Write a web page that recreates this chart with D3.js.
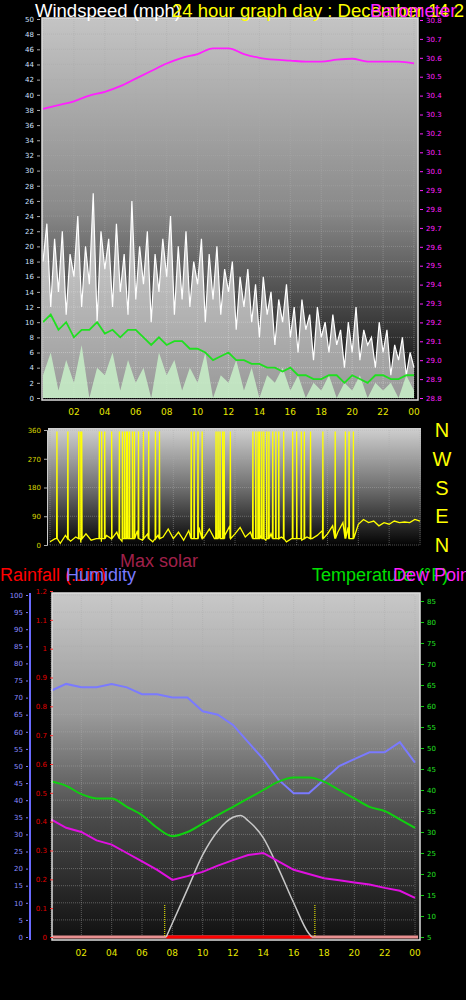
<!DOCTYPE html><html><head><meta charset="utf-8">
<script src="https://cdn.jsdelivr.net/npm/d3@7"></script>
<style>body{margin:0;background:#000}svg{display:block}</style></head><body>
<script>
// ---- data ----
const hourTicks=["02","04","06","08","10","12","14","16","18","20","22","00"];
const baroHours=[0,1,2,3,4,5,6,7,8,9,10,11,12,13,14,15,16,17,18,19,20,21,22,23,24];
const baro=[30.33,30.35,30.37,30.40,30.42,30.45,30.49,30.53,30.57,30.60,30.62,30.65,30.65,30.62,30.60,30.59,30.585,30.58,30.58,30.59,30.595,30.58,30.58,30.58,30.57];
const gust=[18,23,12,21,14,22,11,19,16,24,12,20,15,27,10,22,17,21,12,23,14,19,11,26,13,20,15,22,10,19,14,21,16,24,11,20,13,22,12,18,15,21,10,19,13,20,11,17,14,18,9,16,12,17,10,15,8,16,11,14,7,13,10,15,8,12,6,13,9,11,5,12,8,10,6,11,7,9,4,10,6,12,5,9,7,8,4,10,6,9,3,7,5,8,3,6,4];
const speed=[3,6,1,5,2,7,0,4,3,6,1,5,2,4,0,6,3,5,1,4,2,6,0,3,2,5,1,4,0,3,2,4,1,3,0,2,1,3,0,2,1,3,0,2,1,2,0,3,1];
const avgWind=[10,11,9,10,8,9,9,10,8.5,9,8,9,9,8,7,8,7,7.5,7.5,6.5,6.5,6,5,5.5,6,5,5,4.5,4.5,4,4,3.5,4,3,3,2.5,2.5,3,3,2,3,2.5,2,3,3,2.5,2.5,3,3];
const dirBase=[10,20,5,30,12,25,8,35,15,20,10,30,18,40,12,25,20,45,15,35,10,30,25,50,20,40,15,45,30,55,25,50,20,45,30,60,35,55,25,40,20,30,15,35,20,25,10,20,30,15,25,20,30,45,35,60,40,70,55,75,65,80,70,75,60,70,65,75,70,72,70,80,75];
const dirSpikes=[0.45,1.16,1.87,2.0,2.06,3.2,3.35,3.55,4.0,4.5,4.7,4.84,4.97,5.03,5.16,5.35,5.48,5.74,6.06,6.4,6.84,7.1,9.16,9.35,9.6,9.87,10.77,10.9,11.03,11.2,11.3,11.7,13.16,13.35,13.5,13.6,13.74,13.87,14.06,14.2,14.45,14.65,14.84,15.16,15.74,16.0,16.3,16.5,16.9,17.7,18.5,19.16,19.4,19.68];
const hum=[72,74,73,73,74,73,71,71,70,70,66,65,62,57,52,46,42,42,46,50,52,54,54,57,51];
const temp=[42,41,39,38,38,36,34,31,29,30,32,34,36,38,40,42,43,43,42,40,38,36,35,33,31];
const dew=[33,31,30,28,27,25,23,21,18.6,19.5,20.5,22,23.3,24.5,25,23,21,20,19,18.5,18,17.5,16.7,16,14.3];
const solarHours=[7.6,8,9,10,11,12,12.5,13,14,15,16,17,17.2];
const solar=[0,4,14,24,31,35,35.5,34,29,20,10,1,0];
const sunMarks=[7.5,17.4];

const W=466,H=1000;
const svg=d3.select("body").append("svg").attr("width",W).attr("height",H);
const defs=svg.append("defs");
function grad(id,stops){const g=defs.append("linearGradient").attr("id",id).attr("x1",0).attr("y1",0).attr("x2",0).attr("y2",1);stops.forEach(s=>g.append("stop").attr("offset",s[0]).attr("stop-color",s[1]));}
grad("g1",[[0,"#c4c4c4"],[0.5,"#8a8a8a"],[0.8,"#3a3a3a"],[1,"#000"]]);
grad("g2",[[0,"#d0d0d0"],[0.5,"#707070"],[1,"#000"]]);
grad("g3",[[0,"#c8c8c8"],[0.35,"#9a9a9a"],[0.65,"#4a4a4a"],[1,"#101010"]]);
const F="DejaVu Sans, sans-serif";
function panel(x0,x1,y0,y1,g){
  svg.append("rect").attr("x",x0).attr("y",y0).attr("width",x1-x0).attr("height",y1-y0).attr("fill",`url(#${g})`);
}
function grid(x,y,yt){
  const gg=svg.append("g").attr("stroke","#aaa").attr("stroke-opacity",0.45).attr("stroke-dasharray","1,1");
  d3.range(0,25,2).forEach(h=>gg.append("line").attr("x1",x(h)).attr("x2",x(h)).attr("y1",y.range()[0]).attr("y2",y.range()[1]));
  yt.forEach(v=>gg.append("line").attr("x1",x.range()[0]).attr("x2",x.range()[1]).attr("y1",y(v)).attr("y2",y(v)));
}
function frame(x0,x1,y0,y1){svg.append("rect").attr("x",x0).attr("y",y0).attr("width",x1-x0).attr("height",y1-y0).attr("fill","none").attr("stroke","#ddd").attr("stroke-width",1.5);}
function xlabels(x,y){hourTicks.forEach((t,i)=>svg.append("text").attr("x",x((i+1)*2)).attr("y",y).attr("fill","#e6e600").attr("font-size",9).attr("font-family",F).attr("text-anchor","middle").text(t));}
const idx=(arr)=>arr.map((v,i)=>[i*24/(arr.length-1),v]);

// ---- top panel ----
const x1=d3.scaleLinear([0,24],[43,414]);
const yW=d3.scaleLinear([0,50],[398,19]);
const yB=d3.scaleLinear([28.8,30.8],[398,20]);
panel(42,418,18,400,"g1");
grid(x1,yW,d3.range(0,51,2));
const ln=(x,y)=>d3.line().x(d=>x(d[0])).y(d=>y(d[1]));
svg.append("path").datum(idx(gust)).attr("d",d3.area().x(d=>x1(d[0])).y0(yW(0)).y1(d=>yW(d[1]))).attr("fill","#fff").attr("fill-opacity",0.6);
svg.append("path").datum(idx(gust)).attr("d",ln(x1,yW)).attr("fill","none").attr("stroke","#fff").attr("stroke-width",1.2);
svg.append("path").datum(idx(speed)).attr("d",d3.area().x(d=>x1(d[0])).y0(yW(0)).y1(d=>yW(d[1]))).attr("fill","#c8f0c8").attr("fill-opacity",0.85);
svg.append("path").datum(idx(avgWind)).attr("d",ln(x1,yW)).attr("fill","none").attr("stroke","#20e020").attr("stroke-width",1.8);
svg.append("path").datum(baroHours.map((h,i)=>[h,baro[i]])).attr("d",ln(x1,yB).curve(d3.curveMonotoneX)).attr("fill","none").attr("stroke","#ff20ff").attr("stroke-width",1.8);
frame(42,418,18,400);
svg.append("g").attr("transform","translate(40,0)").call(d3.axisLeft(yW).tickValues(d3.range(0,51,2)).tickSize(3)).call(g=>{g.select(".domain").remove();g.selectAll("line").attr("stroke","#aaa");g.selectAll("text").attr("fill","#cfe0ff").attr("font-size",7).attr("font-family",F);});
svg.append("g").attr("transform","translate(420,0)").call(d3.axisRight(yB).tickValues(d3.range(0,21).map(i=>+(28.8+i*0.1).toFixed(1))).tickSize(3).tickFormat(d3.format(".1f"))).call(g=>{g.select(".domain").remove();g.selectAll("line").attr("stroke","#ff20ff");g.selectAll("text").attr("fill","#ff20ff").attr("font-size",7).attr("font-family",F);});
xlabels(x1,415);
const T="Liberation Sans, Arial, sans-serif";
svg.append("text").attr("x",35).attr("y",17).attr("fill","#fff").attr("font-size",18.5).attr("font-family",T).text("Windspeed (mph)");
svg.append("text").attr("x",172).attr("y",17).attr("fill","#ffff00").attr("font-size",18.5).attr("font-family",T).text("24 hour graph day : December 14 2");
svg.append("text").attr("x",370).attr("y",17).attr("fill","#ff20ff").attr("font-size",18.5).attr("font-family",T).text("Barometer");

// ---- middle panel ----
const x2=d3.scaleLinear([0,24],[50,420]);
const yD=d3.scaleLinear([0,360],[545,430]);
panel(48,421,428,547,"g2");
grid(x2,yD,[0,90,180,270,360]);
let dpts=idx(dirBase);
dirSpikes.forEach(h=>{dpts.push([h-0.02,20]);dpts.push([h,355]);dpts.push([h+0.02,20]);});
dpts.sort((a,b)=>a[0]-b[0]);
svg.append("path").datum(dpts).attr("d",ln(x2,yD)).attr("fill","none").attr("stroke","#ffff00").attr("stroke-width",1.3);
svg.append("g").attr("transform","translate(47,0)").call(d3.axisLeft(yD).tickValues([0,90,180,270,360]).tickSize(3)).call(g=>{g.select(".domain").attr("stroke","#ccc");g.selectAll("line").attr("stroke","#aaa");g.selectAll("text").attr("fill","#d8d800").attr("font-size",7).attr("font-family",F);});
["N","W","S","E","N"].forEach((c,i)=>svg.append("text").attr("x",442).attr("y",437+i*28.8).attr("fill","#ffff00").attr("font-size",20).attr("font-family",T).attr("text-anchor","middle").text(c));

// ---- titles bottom ----
svg.append("text").attr("x",120).attr("y",567).attr("fill","#a0204a").attr("font-size",18).attr("font-family",T).text("Max solar");
svg.append("text").attr("x",0).attr("y",581).attr("fill","#ff0000").attr("font-size",18).attr("font-family",T).text("Rainfall (.1in)");
svg.append("text").attr("x",66).attr("y",581).attr("fill","#7a7aff").attr("font-size",18).attr("font-family",T).text("Humidity");
svg.append("text").attr("x",312).attr("y",581).attr("fill","#00e000").attr("font-size",18).attr("font-family",T).text("Temperature (°F)");
svg.append("text").attr("x",393).attr("y",581).attr("fill","#ff20ff").attr("font-size",18).attr("font-family",T).text("Dew Point");

// ---- bottom panel ----
const x3=d3.scaleLinear([0,24],[51,415]);
const yH=d3.scaleLinear([0,100],[937,595]);
const yR=d3.scaleLinear([0,1.2],[937,591]);
const yT=d3.scaleLinear([5,85],[937,601]);
panel(52,420,593,940,"g3");
grid(x3,yH,d3.range(0,101,5));
const hrs=d3.range(0,25);
svg.append("line").attr("x1",52).attr("x2",418).attr("y1",937).attr("y2",937).attr("stroke","#e89090").attr("stroke-width",3);
svg.append("line").attr("x1",x3(7.6)).attr("x2",x3(17.2)).attr("y1",937).attr("y2",937).attr("stroke","#ff0000").attr("stroke-width",3);
sunMarks.forEach(h=>svg.append("line").attr("x1",x3(h)).attr("x2",x3(h)).attr("y1",905).attr("y2",937).attr("stroke","#ffff00").attr("stroke-dasharray","1,1"));
svg.append("path").datum(solarHours.map((h,i)=>[h,solar[i]])).attr("d",ln(x3,yH).curve(d3.curveMonotoneX)).attr("fill","none").attr("stroke","#c8c8c8").attr("stroke-width",1.5);
svg.append("path").datum(hrs.map((h,i)=>[h,hum[i]])).attr("d",ln(x3,yH)).attr("fill","none").attr("stroke","#7a7aff").attr("stroke-width",2);
svg.append("path").datum(hrs.map((h,i)=>[h,temp[i]])).attr("d",ln(x3,yT).curve(d3.curveMonotoneX)).attr("fill","none").attr("stroke","#10d010").attr("stroke-width",2);
svg.append("path").datum(hrs.map((h,i)=>[h,dew[i]])).attr("d",ln(x3,yT)).attr("fill","none").attr("stroke","#e010e0").attr("stroke-width",2);
frame(52,420,593,940);
svg.append("line").attr("x1",30).attr("x2",30).attr("y1",593).attr("y2",940).attr("stroke","#6a6aff").attr("stroke-width",2);
svg.append("g").attr("transform","translate(28,0)").call(d3.axisLeft(yH).tickValues(d3.range(0,101,5)).tickSize(2)).call(g=>{g.select(".domain").remove();g.selectAll("line").attr("stroke","#7a7aff");g.selectAll("text").attr("fill","#8a8aff").attr("font-size",7).attr("font-family",F);});
svg.append("g").attr("transform","translate(53,0)").call(d3.axisLeft(yR).tickValues(d3.range(0,13).map(i=>+(i/10).toFixed(1))).tickSize(3).tickFormat(d=>d)).call(g=>{g.select(".domain").remove();g.selectAll("line").attr("stroke","#ff3030");g.selectAll("text").attr("fill","#e00000").attr("font-size",7).attr("font-family",F);});
svg.append("g").attr("transform","translate(421,0)").call(d3.axisRight(yT).tickValues(d3.range(5,86,5)).tickSize(3)).call(g=>{g.select(".domain").remove();g.selectAll("line").attr("stroke","#10d010");g.selectAll("text").attr("fill","#20e020").attr("font-size",7).attr("font-family",F);});
xlabels(x3,956);
</script></body></html>
